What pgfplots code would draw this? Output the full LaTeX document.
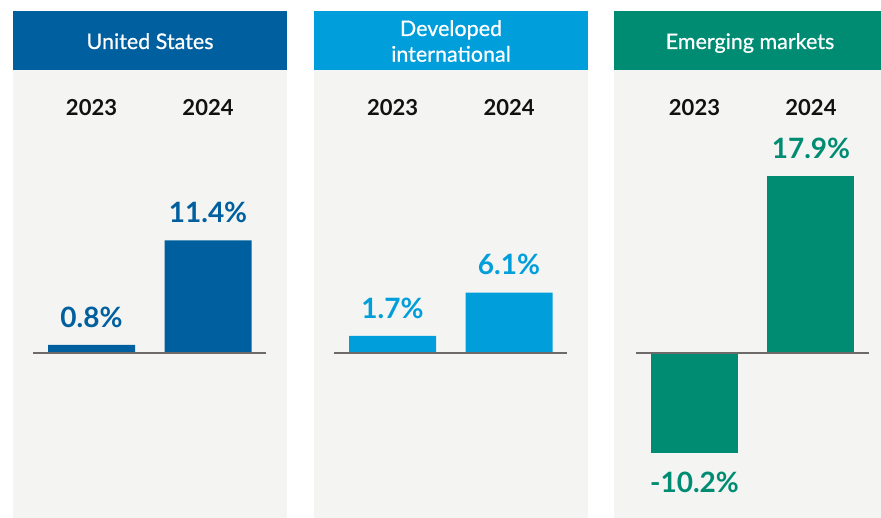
\documentclass[border=0pt]{standalone}
\usepackage{fontspec}
\setmainfont{Lato}
\newfontfamily\headfont[FakeBold=0.6]{Lato}
\usepackage{pgfplots}
\pgfplotsset{compat=1.18}
\definecolor{usBlue}{RGB}{0,95,158}
\definecolor{devBlue}{RGB}{0,158,219}
\definecolor{emGreen}{RGB}{0,140,115}
\definecolor{panelGray}{RGB}{244,244,242}
\definecolor{zeroLine}{RGB}{110,106,106}
\definecolor{yearInk}{RGB}{17,17,17}

\pgfplotsset{
  panel/.style={
    scale only axis, width=274pt, height=507pt,
    xmin=-0.674, xmax=1.678, ymin=-16.74, ymax=34.63,
    axis line style={draw=none}, xtick=\empty, ytick=\empty,
    clip=false, anchor=south west,
    ybar, bar width=87pt, bar shift=0pt,
    /pgf/number format/assume math mode=true,
    nodes near coords={\pgfmathprintnumber[fixed,fixed zerofill,precision=1]{\pgfplotspointmeta}\%},
    every node near coord/.append style={anchor=base, yshift=17.7pt,
      font=\fontsize{28}{30}\selectfont\bfseries},
  },
}
\tikzset{years/.style={font=\fontsize{22}{26}\selectfont\bfseries, text=yearInk, anchor=base}}
\newcommand{\zeroaxis}{\draw[zeroLine, line width=1.6pt] (axis cs:-0.5,0) -- (axis cs:1.5,0);}
\newcommand{\yearlabels}{%
  \node[years] at (axis cs:0,24.0) {2023};
  \node[years] at (axis cs:1,24.0) {2024};}

\begin{document}
\begin{tikzpicture}[x=1pt,y=1pt]
\path (0,0) rectangle (881,518);
% panel backgrounds and headers
\fill[panelGray] (13,0) rectangle (287,507);
\fill[panelGray] (314,0) rectangle (588,507);
\fill[panelGray] (614,0) rectangle (881,507);
\fill[usBlue] (13,448) rectangle (287,507);
\fill[devBlue] (314,448) rectangle (588,507);
\fill[emGreen] (614,448) rectangle (881,507);
\begin{scope}[every node/.style={text=white, anchor=base, font=\headfont\fontsize{21.5}{25.7}\selectfont}]
\node at (150,469) {United States};
\node at (451,482) {Developed};
\node at (451,456.3) {international};
\node at (750,469) {Emerging markets};
\end{scope}

\begin{axis}[panel, at={(13pt,0pt)},
  every node near coord/.append style={text=usBlue}]
\addplot[fill=usBlue, draw=none] coordinates {(0,0.8) (1,11.4)};
\zeroaxis
\yearlabels
\end{axis}

\begin{axis}[panel, at={(314pt,0pt)},
  every node near coord/.append style={text=devBlue}]
\addplot[fill=devBlue, draw=none] coordinates {(0,1.7) (1,6.1)};
\zeroaxis
\yearlabels
\end{axis}

\begin{axis}[panel, at={(614pt,0pt)}, width=267pt, xmin=-0.691, xmax=1.601,
  every node near coord/.append style={text=emGreen}]
\addplot[fill=emGreen, draw=none,
  every node near coord/.append style={yshift=-56.3pt}] coordinates {(0,-10.2)};
\addplot[fill=emGreen, draw=none] coordinates {(1,17.9)};
\zeroaxis
\yearlabels
\end{axis}
\end{tikzpicture}
\end{document}
